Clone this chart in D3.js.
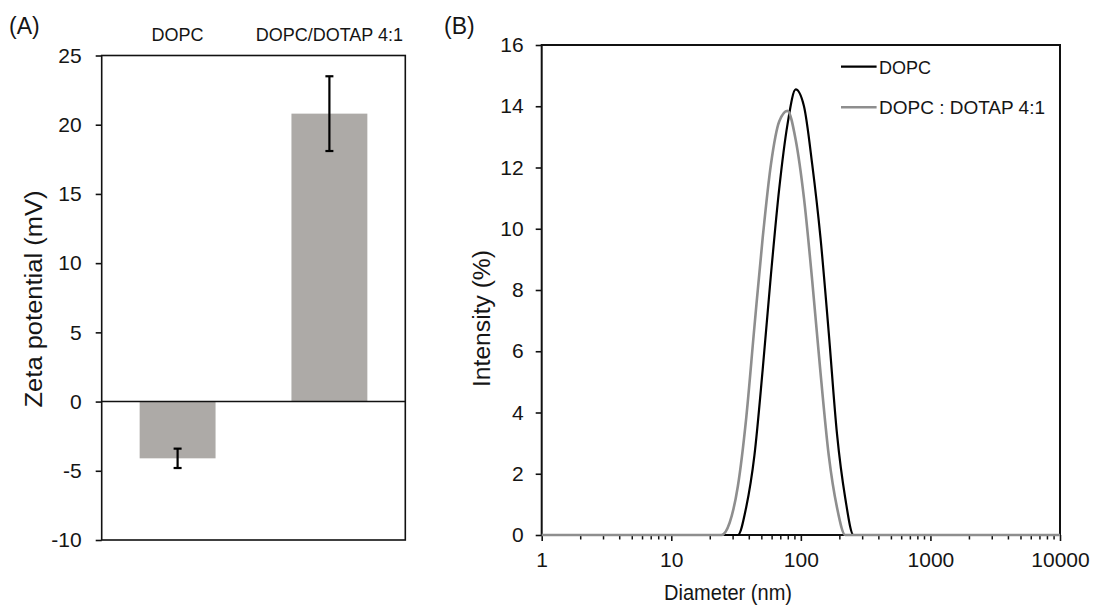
<!DOCTYPE html>
<html>
<head>
<meta charset="utf-8">
<script src="https://cdn.jsdelivr.net/npm/d3@7/dist/d3.min.js"></script>
<style>
  html, body { margin: 0; padding: 0; background: #fff; }
  svg { display: block; }
  text { font-family: "Liberation Sans", Arial, sans-serif; fill: #151515; }
</style>
</head>
<body>
<svg id="fig" width="1095" height="608"></svg>
<script>
// ---- Panel A: zeta potential ----
const formulations = ["DOPC", "DOPC/DOTAP 4:1"];
const zetaMean = [-4.1, 20.8];
const zetaSD = [0.7, 2.7];
const zetaTicks = [-10, -5, 0, 5, 10, 15, 20, 25];

// ---- Panel B: DLS intensity size distribution ----
const diameterNm = [1, 21.04, 24.36, 28.21, 32.67, 37.84, 43.82, 50.75, 58.77, 68.06, 78.82,
                    91.28, 105.7, 122.4, 141.8, 164.2, 190.1, 220.2, 255.0, 295.3, 10000];
const intensityDOPC = [0, 0, 0, 0, 0, 0.9, 2.6, 5.4, 8.5, 11.3, 13.4,
                       14.55, 14.0, 12.1, 9.7, 6.6, 3.3, 1.2, 0, 0, 0];
const intensityDOTAP = [0, 0, 0, 0.4, 1.6, 3.8, 6.8, 9.7, 12.1, 13.5, 13.85,
                        12.9, 11.0, 8.3, 5.3, 2.6, 0.9, 0, 0, 0, 0];
const seriesNames = ["DOPC", "DOPC : DOTAP 4:1"];
const diameterTicks = [1, 10, 100, 1000, 10000];
const intensityTicks = [0, 2, 4, 6, 8, 10, 12, 14, 16];

const svg = d3.select("#fig");
const FONT_TICK = 21;
const plain = d => String(d);   // hyphen-minus, as in the printed labels

// ===================== Panel A =====================
const A = { left: 101.7, right: 405.3, top: 55.5, bottom: 540 };
const xA = d3.scaleBand().domain(formulations).range([A.left, A.right])
  .paddingInner(0.5).paddingOuter(0.25);
const yA = d3.scaleLinear().domain([-10, 25]).range([A.bottom, A.top]);

const gA = svg.append("g");

// bars
gA.selectAll("rect.bar").data(formulations).join("rect")
  .attr("class", "bar")
  .attr("x", d => xA(d))
  .attr("width", xA.bandwidth())
  .attr("y", (d, i) => yA(Math.max(0, zetaMean[i])))
  .attr("height", (d, i) => Math.abs(yA(zetaMean[i]) - yA(0)))
  .attr("fill", "#adaaa7");

// error bars
const cx = d => xA(d) + xA.bandwidth() / 2;
const eb = gA.selectAll("g.err").data(formulations).join("g").attr("class", "err");
eb.append("line")
  .attr("x1", cx).attr("x2", cx)
  .attr("y1", (d, i) => yA(zetaMean[i] + zetaSD[i])).attr("y2", (d, i) => yA(zetaMean[i] - zetaSD[i]));
eb.append("line")
  .attr("x1", d => cx(d) - 4).attr("x2", d => cx(d) + 4)
  .attr("y1", (d, i) => yA(zetaMean[i] + zetaSD[i])).attr("y2", (d, i) => yA(zetaMean[i] + zetaSD[i]));
eb.append("line")
  .attr("x1", d => cx(d) - 4).attr("x2", d => cx(d) + 4)
  .attr("y1", (d, i) => yA(zetaMean[i] - zetaSD[i])).attr("y2", (d, i) => yA(zetaMean[i] - zetaSD[i]));
eb.selectAll("line").attr("stroke", "#000").attr("stroke-width", 2.2);

// frame and zero line
gA.append("rect")
  .attr("x", A.left).attr("y", A.top)
  .attr("width", A.right - A.left).attr("height", A.bottom - A.top)
  .attr("fill", "none").attr("stroke", "#111").attr("stroke-width", 1.6);
gA.append("line")
  .attr("x1", A.left).attr("x2", A.right)
  .attr("y1", yA(0)).attr("y2", yA(0))
  .attr("stroke", "#111").attr("stroke-width", 1.6);

// y axis
const axA = gA.append("g").attr("transform", `translate(${A.left},0)`)
  .call(d3.axisLeft(yA).tickValues(zetaTicks).tickSize(6).tickPadding(14).tickFormat(plain));
axA.select(".domain").remove();
axA.selectAll(".tick line").attr("stroke", "#111").attr("stroke-width", 1.6);
axA.selectAll(".tick text").attr("font-size", FONT_TICK).attr("font-family", null).attr("fill", "#151515");

// category labels above the frame
gA.selectAll("text.cat").data(formulations).join("text")
  .attr("class", "cat")
  .attr("x", d => cx(d))
  .attr("y", 41)
  .attr("text-anchor", "middle")
  .attr("font-size", 18)
  .text(d => d);

// axis title
gA.append("text")
  .attr("transform", "translate(42,299) rotate(-90)")
  .attr("text-anchor", "middle")
  .attr("font-size", 23)
  .attr("textLength", 217).attr("lengthAdjust", "spacingAndGlyphs")
  .text("Zeta potential (mV)");

svg.append("text").attr("x", 9).attr("y", 34).attr("font-size", 23).text("(A)");

// ===================== Panel B =====================
const B = { left: 541.7, right: 1060, top: 45, bottom: 535 };
const xB = d3.scaleLog().domain([1, 10000]).range([B.left, B.right]);
const yB = d3.scaleLinear().domain([0, 16]).range([B.bottom, B.top]);
const gB = svg.append("g");

// minor ticks on the log axis
const minor = [];
for (let dec = 1; dec < 10000; dec *= 10)
  for (let m = 2; m <= 9; m++) minor.push(dec * m);
gB.selectAll("line.minor").data(minor).join("line")
  .attr("class", "minor")
  .attr("x1", d => xB(d)).attr("x2", d => xB(d))
  .attr("y1", B.bottom).attr("y2", B.bottom + 4.5)
  .attr("stroke", "#111").attr("stroke-width", 1.5);

// x axis
const axBx = gB.append("g").attr("transform", `translate(0,${B.bottom})`)
  .call(d3.axisBottom(xB).tickValues(diameterTicks).tickSize(6).tickPadding(11).tickFormat(plain));
axBx.select(".domain").remove();
axBx.selectAll(".tick line").attr("stroke", "#111").attr("stroke-width", 1.6);
axBx.selectAll(".tick text").attr("font-size", FONT_TICK).attr("font-family", null).attr("fill", "#151515");

// y axis
const axBy = gB.append("g").attr("transform", `translate(${B.left},0)`)
  .call(d3.axisLeft(yB).tickValues(intensityTicks).tickSize(6).tickPadding(12).tickFormat(plain));
axBy.select(".domain").remove();
axBy.selectAll(".tick line").attr("stroke", "#111").attr("stroke-width", 1.6);
axBy.selectAll(".tick text").attr("font-size", FONT_TICK).attr("font-family", null).attr("fill", "#151515");

// frame
gB.append("rect")
  .attr("x", B.left).attr("y", B.top)
  .attr("width", B.right - B.left).attr("height", B.bottom - B.top)
  .attr("fill", "none").attr("stroke", "#111").attr("stroke-width", 2);

// distribution curves
const lineB = d3.line()
  .x(d => xB(d[0]))
  .y(d => yB(d[1]))
  .curve(d3.curveMonotoneX);
const curves = [
  { name: seriesNames[0], values: intensityDOPC, color: "#000", width: 2.2 },
  { name: seriesNames[1], values: intensityDOTAP, color: "#8e8e8e", width: 2.6 }
];
gB.selectAll("path.dist").data(curves).join("path")
  .attr("class", "dist")
  .attr("d", c => lineB(diameterNm.map((s, i) => [s, c.values[i]])))
  .attr("fill", "none")
  .attr("stroke", c => c.color)
  .attr("stroke-width", c => c.width)
  .attr("stroke-linejoin", "round");

// legend
const leg = gB.selectAll("g.leg").data(curves).join("g")
  .attr("class", "leg")
  .attr("transform", (c, i) => `translate(841,${66.7 + i * 40.6})`);
leg.append("line").attr("x1", 0).attr("x2", 35.6).attr("y1", 0).attr("y2", 0)
  .attr("stroke", c => c.color).attr("stroke-width", c => c.width);
leg.append("text").attr("x", 38).attr("y", 7).attr("font-size", 19)
  .attr("textLength", (c, i) => i === 0 ? 52 : 166).attr("lengthAdjust", "spacingAndGlyphs")
  .text(c => c.name);

// axis titles
gB.append("text")
  .attr("x", 728).attr("y", 600)
  .attr("text-anchor", "middle")
  .attr("font-size", 22)
  .attr("textLength", 128).attr("lengthAdjust", "spacingAndGlyphs")
  .text("Diameter (nm)");
gB.append("text")
  .attr("transform", "translate(490,318.5) rotate(-90)")
  .attr("text-anchor", "middle")
  .attr("font-size", 23)
  .attr("textLength", 137).attr("lengthAdjust", "spacingAndGlyphs")
  .text("Intensity (%)");

svg.append("text").attr("x", 444).attr("y", 34).attr("font-size", 23).text("(B)");
</script>
</body>
</html>
